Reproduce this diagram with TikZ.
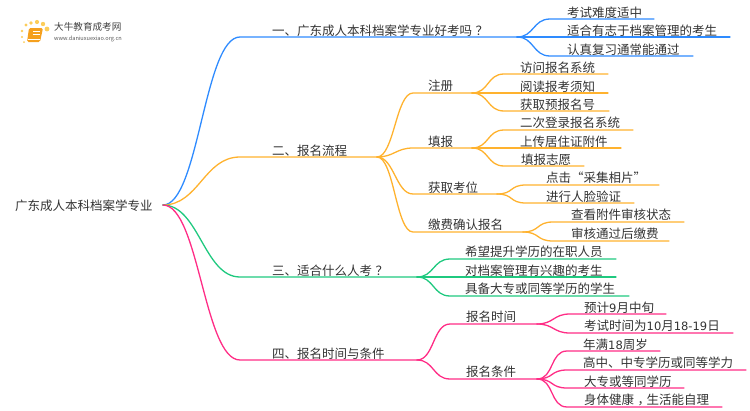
\documentclass[tikz,border=0pt]{standalone}
\usepackage{fontspec}
\setmainfont{Noto Sans CJK SC}
\newfontfamily\digitfont{DejaVu Sans}
\usepackage{xcolor}
\definecolor{hblue}{RGB}{46,139,255}
\definecolor{horange}{RGB}{255,178,46}
\definecolor{hgreen}{RGB}{31,201,127}
\definecolor{hpink}{RGB}{255,45,134}
\definecolor{htext}{RGB}{51,51,51}
\definecolor{hbook}{RGB}{245,160,30}
\definecolor{hdot}{RGB}{252,205,90}
\newcommand{\num}[1]{{\digitfont\fontsize{11.5}{15}\selectfont #1}}
\tikzset{
 lab/.style={anchor=west,inner sep=0pt,text=htext,font=\fontsize{12.5}{15}\selectfont,text height=12pt,text depth=.5pt},
 rootlink/.style={out=0,in=180,distance=36pt},
 sublink/.style={out=0,in=180,distance=17pt},
 wire/.style={line width=1.3pt,line cap=round},
}
\begin{document}
\begin{tikzpicture}[x=1pt,y=-1pt]
\useasboundingbox (0,0) rectangle (750,410);
% logo
\fill[hdot] (22,37) circle (1.2) (24,42) circle (1) (22,31) circle (1.4) (26,25) circle (1.6) (31,23) circle (1.9) (37,22) circle (2.1) (43,24) circle (2.2) (47,29) circle (2.4);
\fill[hbook,rounded corners=1.5pt] (29,28) -- (43,28) -- (40,42) -- (27,42) -- cycle;
\draw[white,line width=.6pt] (33,31) -- (40,31) (32.5,34) -- (39.5,34);
\draw[white,line width=.5pt] (28,39.5) -- (39.5,39.5);
\shade[left color=white,middle color=black!18,right color=white] (45,33) rectangle (133,33.7);
\node (logo) [anchor=west,inner sep=0pt,text=black!75,font=\fontsize{9.6}{11}\selectfont] at (54,27) {大牛教育成考网};
\node (url) [anchor=west,inner sep=0pt,text=black!65,font=\fontsize{5.6}{7}\selectfont] at (54,39) {www.daniuxuexiao.org.cn};
% root
\node (root) [lab,inner xsep=10pt] at (5,205) {广东成人本科档案学专业};
% branch one
\node (b1) [lab] at (272,30) {一、广东成人本科档案学专业好考吗\hspace{3.5pt}？};
\coordinate (b1s) at (240,37);
\coordinate (b1e) at (517,37);
\node (b11) [lab] at (567,12) {考试难度适中};
\node (b12) [lab] at (567,30) {适合有志于档案管理的考生};
\node (b13) [lab] at (567,49) {认真复习通常能通过};
\coordinate (b11s) at (550,19);
\coordinate (b11e) at (654,19);
\coordinate (b12s) at (550,37);
\coordinate (b12e) at (730,37);
\coordinate (b13s) at (550,56);
\coordinate (b13e) at (693,56);
\draw[wire,hblue] (root.east) to[rootlink] (b1s) -- (b1e);
\draw[wire,hblue] (b1e) to[sublink] (b11s) -- (b11e);
\draw[wire,hblue] (b1e) to[sublink] (b12s) -- (b12e);
\draw[wire,hblue] (b1e) to[sublink] (b13s) -- (b13e);
% branch two
\node (b2) [lab] at (272,150) {二、报名流程};
\coordinate (b2s) at (240,157);
\coordinate (b2e) at (377,157);
\draw[wire,horange] (root.east) to[rootlink] (b2s) -- (b2e);
\node (reg) [lab] at (428,85) {注册};
\node (fill) [lab] at (428,141) {填报};
\node (seat) [lab] at (428,187) {获取考位};
\node (pay) [lab] at (428,224) {缴费确认报名};
\coordinate (regs) at (413,93);
\coordinate (rege) at (472,93);
\coordinate (fills) at (413,148);
\coordinate (fille) at (472,148);
\coordinate (seats) at (413,194);
\coordinate (seate) at (497,194);
\coordinate (pays) at (413,232);
\coordinate (paye) at (523,232);
\draw[wire,horange] (b2e) to[sublink] (regs) -- (rege);
\draw[wire,horange] (b2e) to[sublink] (fills) -- (fille);
\draw[wire,horange] (b2e) to[sublink] (seats) -- (seate);
\draw[wire,horange] (b2e) to[sublink] (pays) -- (paye);
\node (reg1) [lab] at (520,67) {访问报名系统};
\node (reg2) [lab] at (520,86) {阅读报考须知};
\node (reg3) [lab] at (520,104) {获取预报名号};
\coordinate (reg1s) at (504,74);
\coordinate (reg1e) at (608,74);
\coordinate (reg2s) at (504,93);
\coordinate (reg2e) at (608,93);
\coordinate (reg3s) at (504,111);
\coordinate (reg3e) at (609,111);
\draw[wire,horange] (rege) to[sublink] (reg1s) -- (reg1e);
\draw[wire,horange] (rege) to[sublink] (reg2s) -- (reg2e);
\draw[wire,horange] (rege) to[sublink] (reg3s) -- (reg3e);
\node (fill1) [lab] at (520,122) {二次登录报名系统};
\node (fill2) [lab] at (520,141) {上传居住证附件};
\node (fill3) [lab] at (521,159) {填报志愿};
\coordinate (fill1s) at (504,130);
\coordinate (fill1e) at (633,130);
\coordinate (fill2s) at (504,148);
\coordinate (fill2e) at (621,148);
\coordinate (fill3s) at (504,166);
\coordinate (fill3e) at (584,166);
\draw[wire,horange] (fille) to[sublink] (fill1s) -- (fill1e);
\draw[wire,horange] (fille) to[sublink] (fill2s) -- (fill2e);
\draw[wire,horange] (fille) to[sublink] (fill3s) -- (fill3e);
\node (seat1) [lab] at (546,177) {点击“采集相片”};
\node (seat2) [lab] at (546,196) {进行人脸验证};
\coordinate (seat1s) at (526,185);
\coordinate (seat1e) at (659,185);
\coordinate (seat2s) at (526,203);
\coordinate (seat2e) at (634,203);
\draw[wire,horange] (seate) to[sublink] (seat1s) -- (seat1e);
\draw[wire,horange] (seate) to[sublink] (seat2s) -- (seat2e);
\node (pay1) [lab] at (571,214) {查看附件审核状态};
\node (pay2) [lab] at (571,233) {审核通过后缴费};
\coordinate (pay1s) at (553,222);
\coordinate (pay1e) at (684,222);
\coordinate (pay2s) at (553,241);
\coordinate (pay2e) at (669,241);
\draw[wire,horange] (paye) to[sublink] (pay1s) -- (pay1e);
\draw[wire,horange] (paye) to[sublink] (pay2s) -- (pay2e);
% branch three
\node (b3) [lab] at (272,270) {三、适合什么人考\hspace{3.5pt}？};
\coordinate (b3s) at (240,277);
\coordinate (b3e) at (417,277);
\draw[wire,hgreen] (root.east) to[rootlink] (b3s) -- (b3e);
\node (b31) [lab] at (465,251) {希望提升学历的在职人员};
\node (b32) [lab] at (465,270) {对档案管理有兴趣的考生};
\node (b33) [lab] at (465,288) {具备大专或同等学历的学生};
\coordinate (b31s) at (450,259);
\coordinate (b31e) at (616,259);
\coordinate (b32s) at (450,277);
\coordinate (b32e) at (616,277);
\coordinate (b33s) at (450,296);
\coordinate (b33e) at (629,296);
\draw[wire,hgreen] (b3e) to[sublink] (b31s) -- (b31e);
\draw[wire,hgreen] (b3e) to[sublink] (b32s) -- (b32e);
\draw[wire,hgreen] (b3e) to[sublink] (b33s) -- (b33e);
% branch four
\node (b4) [lab] at (272,353) {四、报名时间与条件};
\coordinate (b4s) at (240,360);
\coordinate (b4e) at (417,360);
\draw[wire,hpink] (root.east) to[rootlink] (b4s) -- (b4e);
\node (time) [lab] at (466,316) {报名时间};
\node (cond) [lab] at (466,371) {报名条件};
\coordinate (times) at (450,324);
\coordinate (timee) at (537,324);
\coordinate (conds) at (450,379);
\coordinate (conde) at (537,379);
\draw[wire,hpink] (b4e) to[sublink] (times) -- (timee);
\draw[wire,hpink] (b4e) to[sublink] (conds) -- (conde);
\node (time1) [lab] at (584,307) {预计\num{9}月中旬};
\node (time2) [lab] at (584,325) {考试时间为\num{10}月\num{18-19}日};
\coordinate (time1s) at (570,314);
\coordinate (time1e) at (666,314);
\coordinate (time2s) at (570,333);
\coordinate (time2e) at (733,333);
\draw[wire,hpink] (timee) to[sublink] (time1s) -- (time1e);
\draw[wire,hpink] (timee) to[sublink] (time2s) -- (time2e);
\node (cond1) [lab] at (583,344) {年满\num{18}周岁};
\node (cond2) [lab] at (583,362) {高中、中专学历或同等学力};
\node (cond3) [lab] at (584,381) {大专或等同学历};
\node (cond4) [lab] at (584,399) {身体健康\hspace{3.5pt}，\hspace{-3.5pt}生活能自理};
\coordinate (cond1s) at (567,351);
\coordinate (cond1e) at (660,351);
\coordinate (cond2s) at (567,370);
\coordinate (cond2e) at (746,370);
\coordinate (cond3s) at (567,388);
\coordinate (cond3e) at (684,388);
\coordinate (cond4s) at (567,407);
\coordinate (cond4e) at (722,407);
\draw[wire,hpink] (conde) to[sublink] (cond1s) -- (cond1e);
\draw[wire,hpink] (conde) to[sublink] (cond2s) -- (cond2e);
\draw[wire,hpink] (conde) to[sublink] (cond3s) -- (cond3e);
\draw[wire,hpink] (conde) to[sublink] (cond4s) -- (cond4e);
\end{tikzpicture}
\end{document}
